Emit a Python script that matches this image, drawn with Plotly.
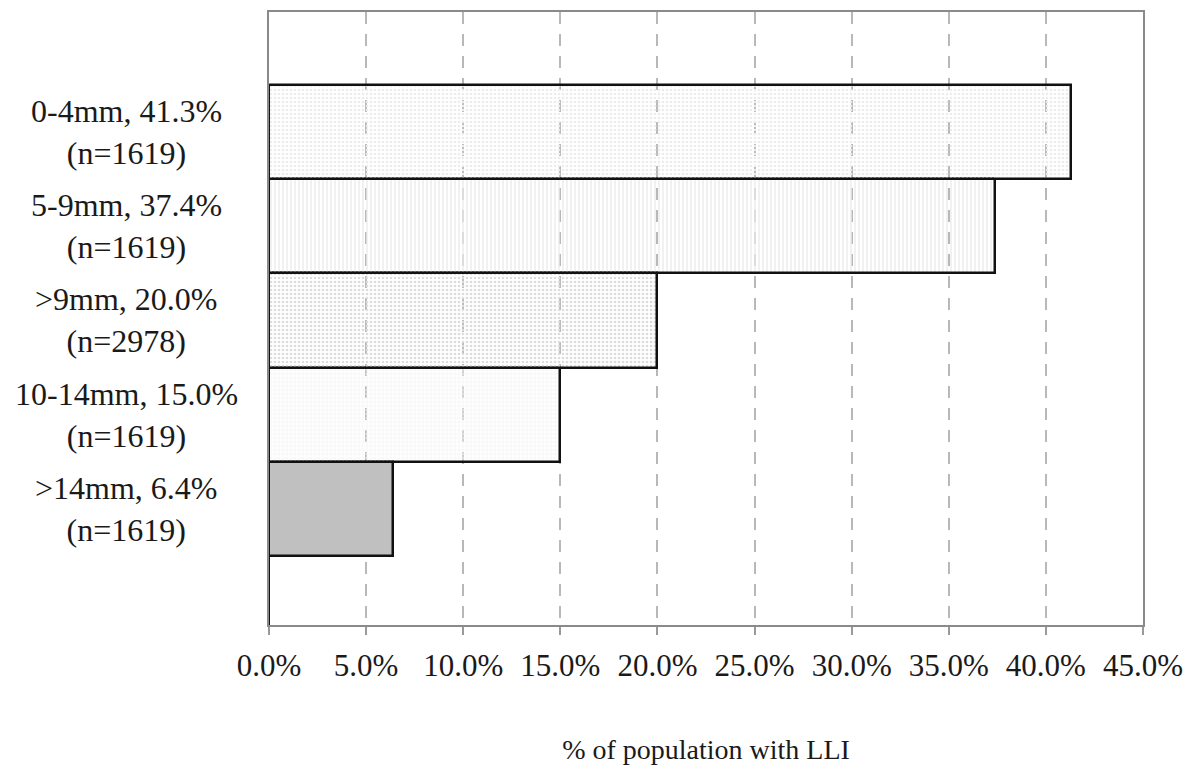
import plotly.graph_objects as go

# ---- data ----
categories = [" ", ">14mm", "10-14mm", ">9mm", "5-9mm", "0-4mm"]
values = [0.0, 6.4, 15.0, 20.0, 37.4, 41.3]
sample_n = ["", "1619", "1619", "2978", "1619", "1619"]
x_ticks = [0, 5, 10, 15, 20, 25, 30, 35, 40, 45]
x_title = "% of population with LLI"

# ---- styles ----
bg_colors = ["#ffffff", "#c0c0c0", "#f4f4f6", "#dcdcdd", "#ebebeb", "#ececee"]
fg_colors = ["#ffffff", "#c0c0c0", "#dedee0", "#cfcfd1", "#d6d6d6", "#dcdcde"]
shapes = ["", "", "+", ".", "|", "."]

FONT = "Liberation Serif"

fig = go.Figure()
fig.add_trace(go.Bar(
    y=categories,
    x=values,
    orientation="h",
    marker=dict(
        color=bg_colors,
        line=dict(color="#111111", width=2.5),
        pattern=dict(shape=shapes, bgcolor=bg_colors, fgcolor=fg_colors,
                     size=4, solidity=0.35, fillmode="replace"),
    ),
    hoverinfo="skip",
    showlegend=False,
))

annotations = []
for cat, v, n in zip(categories, values, sample_n):
    if not n:
        continue
    annotations.append(dict(
        xref="paper", yref="y", x=-0.1636, y=cat,
        text=f"{cat}, {v:.1f}%<br>(n={n})",
        showarrow=False, xanchor="center", yanchor="middle", align="center",
        font=dict(family=FONT, size=32, color="#1a1a1a"),
    ))

fig.update_layout(
    width=1184, height=767,
    margin=dict(l=261, r=49, t=2, b=150),
    paper_bgcolor="white", plot_bgcolor="white",
    bargap=0,
    annotations=annotations,
    xaxis=dict(
        range=[0, 45],
        tickvals=x_ticks,
        ticktext=[f"{t:.1f}%" for t in x_ticks],
        tickfont=dict(family=FONT, size=31, color="#1a1a1a"),
        ticks="outside", ticklen=8, tickcolor="#999999", tickwidth=1.5,
        ticklabelstandoff=4,
        showgrid=True, gridcolor="#b8b8b8", gridwidth=1.5, griddash="12px,10px",
        showline=True, linecolor="#8a8a8a", linewidth=2, mirror=True,
        zeroline=False,
        title=dict(text=x_title, font=dict(family=FONT, size=28, color="#1a1a1a"), standoff=57),
    ),
    yaxis=dict(
        type="category",
        categoryorder="array", categoryarray=categories,
        range=[-0.23, 6.27],
        showticklabels=False, ticks="",
        showgrid=False, zeroline=False,
        showline=True, linecolor="#8a8a8a", linewidth=2, mirror=True,
    ),
)

fig.write_html("out.html")
